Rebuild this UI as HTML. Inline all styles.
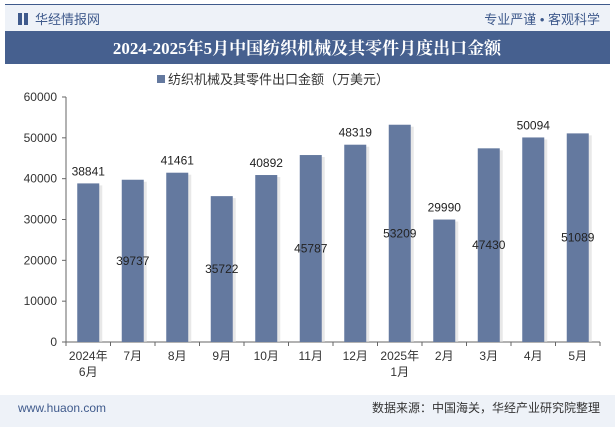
<!DOCTYPE html>
<html><head><meta charset="utf-8"><style>
body{margin:0;width:615px;height:427px;overflow:hidden;background:#fff;font-family:"Liberation Sans","Noto Sans CJK SC",sans-serif}
</style></head><body>
<svg width="615" height="427" xmlns="http://www.w3.org/2000/svg" font-family="Liberation Sans, Noto Sans CJK SC, sans-serif">
<rect x="0" y="0" width="615" height="427" fill="#fff"/>
<rect x="5" y="4" width="605" height="1" fill="#3f5a8c"/>
<rect x="5" y="5" width="605" height="26" fill="#eef2f8"/>
<rect x="18" y="13" width="4" height="12" fill="#3f5a8c"/><rect x="24" y="13" width="4" height="12" fill="#3f5a8c"/>
<text x="35" y="24" font-size="13" fill="#3f5a8c">华经情报网</text>
<text x="600" y="24" font-size="13" fill="#3f5a8c" text-anchor="end">专业严谨 • 客观科学</text>
<rect x="5" y="31" width="605" height="33" fill="#46608f"/>
<text x="307" y="54" font-size="17" font-weight="bold" fill="#fff" text-anchor="middle" font-family="Liberation Serif, Noto Serif CJK SC, serif">2024-2025年5月中国纺织机械及其零件月度出口金额</text>
<rect x="157" y="75" width="8" height="8" fill="#64799f"/>
<text x="168" y="84" font-size="13" fill="#333">纺织机械及其零件出口金额（万美元）</text>
<g id="plot"></g>
<rect x="0" y="395" width="615" height="32" fill="#eef2f8"/>
<text x="18" y="412" font-size="12" fill="#3f5a8c">www.huaon.com</text>
<text x="600" y="412" font-size="12" fill="#333" text-anchor="end">数据来源：中国海关，华经产业研究院整理</text>
</svg>
<script>
const categories=["2024年|6月","7月","8月","9月","10月","11月","12月","2025年|1月","2月","3月","4月","5月"];
const values=[38841,39737,41461,35722,40892,45787,48319,53209,29990,47430,50094,51089];
const labelInside=[false,true,false,true,false,true,false,true,false,true,false,true];
const yTicks=[0,10000,20000,30000,40000,50000,60000];
const NS="http://www.w3.org/2000/svg";
const g=document.getElementById('plot');
const x0=66,x1=600,yb=342,yt=97,ymax=60000;
const step=(x1-x0)/categories.length;
const ys=v=>yb-(v/ymax)*(yb-yt);
const xc=i=>x0+step*(i+0.5);
function mk(t,a){const e=document.createElementNS(NS,t);for(const k in a)e.setAttribute(k,a[k]);g.appendChild(e);return e;}
let ax=mk('line',{x1:x0,y1:yt,x2:x0,y2:yb,stroke:'#666'});


let bx=mk('line',{x1:x0,y1:yb,x2:x1,y2:yb,stroke:'#666'});


yTicks.forEach(v=>{const y=ys(v);mk('line',{x1:x0-4,y1:y,x2:x0,y2:y,stroke:'#666'});
const t=mk('text',{x:x0-9,y:y+4,'font-size':12,fill:'#333','text-anchor':'end'});t.textContent=v;

});
for(let i=0;i<=categories.length;i++){const x=x0+step*i;mk('line',{x1:x,y1:yb,x2:x,y2:yb+4,stroke:'#666'});}
categories.forEach((c,i)=>{const y=ys(values[i]);const w=22;
mk('rect',{x:xc(i)-w/2+3,y:y+2,width:w,height:yb-y-2,fill:'#d8d8d8',opacity:0.6});
const r=mk('rect',{x:xc(i)-w/2,y:y,width:w,height:yb-y,fill:'#64799f'});


const ly=labelInside[i]?(y+yb)/2+4:y-8;
const t=mk('text',{x:xc(i),y:ly,'font-size':12,fill:'#222','text-anchor':'middle'});t.textContent=values[i];


c.split('|').forEach((p,j)=>{const tt=mk('text',{x:xc(i),y:yb+18+j*16,'font-size':12,fill:'#333','text-anchor':'middle'});tt.textContent=p;

});
});
</script>
</body></html>
